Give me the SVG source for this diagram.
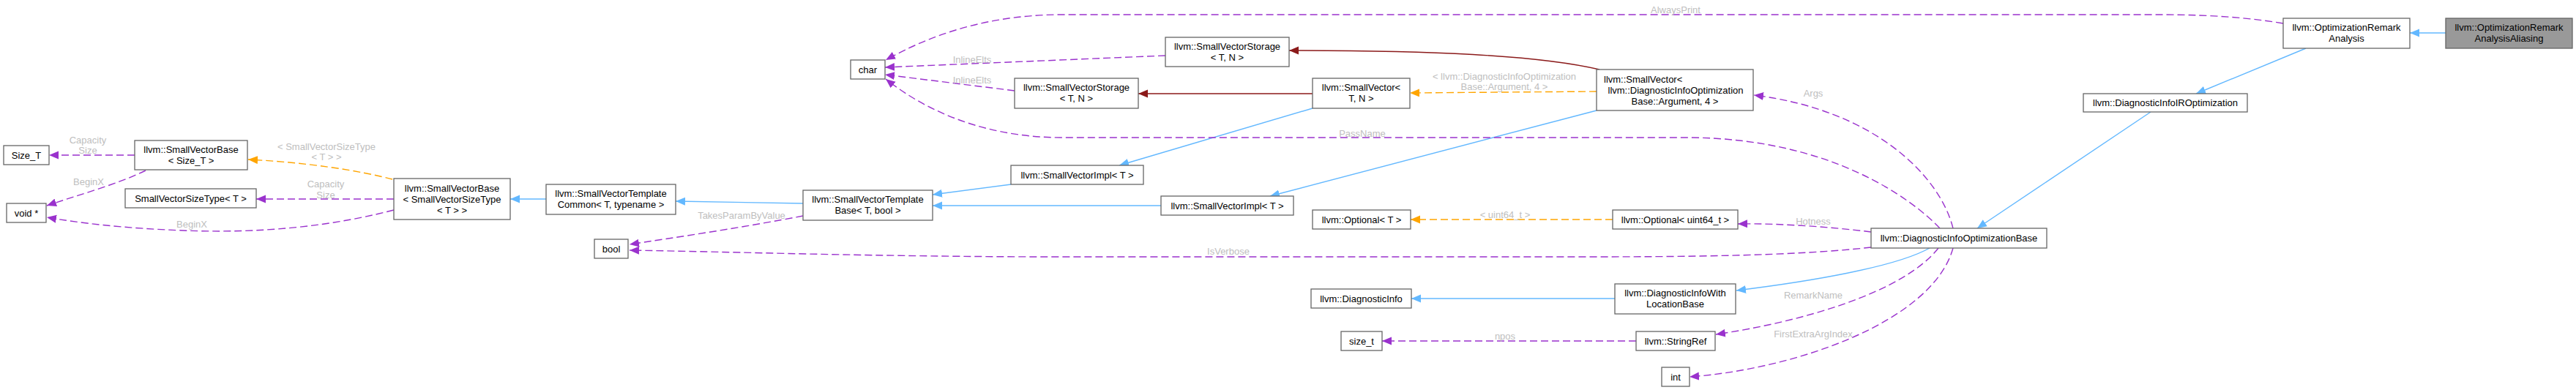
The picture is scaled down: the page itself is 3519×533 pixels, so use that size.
<svg xmlns="http://www.w3.org/2000/svg" width="3519" height="533" viewBox="0 0 3519 533">
<style>
.n rect{fill:#ffffff;stroke:#666666;stroke-width:1.3}
.n.f rect{fill:#999999}
.n text{font-family:"Liberation Sans",Arial,sans-serif;font-size:13px;fill:#000000;text-anchor:middle}
.e path{fill:none;stroke-width:1.4}
.p{stroke:#9a32cd;stroke-dasharray:10,5}
.o{stroke:#ffa500;stroke-dasharray:10,5}
.b{stroke:#63b8ff}
.r{stroke:#8b1a1a}
.l{font-family:"Liberation Sans",Arial,sans-serif;font-size:13px;fill:#bebebe;text-anchor:middle}
</style>
<defs>
<marker id="ap" markerUnits="userSpaceOnUse" markerWidth="14" markerHeight="12" refX="13" refY="5.5" orient="auto"><path d="M0,0 L13,5.5 L0,11 z" fill="#9a32cd"/></marker>
<marker id="ao" markerUnits="userSpaceOnUse" markerWidth="14" markerHeight="12" refX="13" refY="5.5" orient="auto"><path d="M0,0 L13,5.5 L0,11 z" fill="#ffa500"/></marker>
<marker id="ab" markerUnits="userSpaceOnUse" markerWidth="14" markerHeight="12" refX="13" refY="5.5" orient="auto"><path d="M0,0 L13,5.5 L0,11 z" fill="#63b8ff"/></marker>
<marker id="ar" markerUnits="userSpaceOnUse" markerWidth="14" markerHeight="12" refX="13" refY="5.5" orient="auto"><path d="M0,0 L13,5.5 L0,11 z" fill="#8b1a1a"/></marker>
</defs>
<rect x="0" y="0" width="3519" height="533" fill="#ffffff"/>
<g id="edges" class="e">
<path class="p" d="M184,212 L67,212" marker-end="url(#ap)"/>
<path class="p" d="M199,233 C160,252 105,267 64,281" marker-end="url(#ap)"/>
<path class="p" d="M538,272 L350,272" marker-end="url(#ap)"/>
<path class="p" d="M538,287 C430,315 330,318 250,315 C170,312 110,305 64,297" marker-end="url(#ap)"/>
<path class="o" d="M536,245 C490,233 420,222 339,218" marker-end="url(#ao)"/>
<path class="b" d="M746,272 L697,272" marker-end="url(#ab)"/>
<path class="b" d="M1097,278 L923,275" marker-end="url(#ab)"/>
<path class="p" d="M1097,295 C1020,310 920,325 860,334" marker-end="url(#ap)"/>
<path class="b" d="M1381,252 L1274,266" marker-end="url(#ab)"/>
<path class="b" d="M1586,281 L1274,281" marker-end="url(#ab)"/>
<path class="b" d="M1793,148 L1529,226" marker-end="url(#ab)"/>
<path class="b" d="M2181,151 L1735,268" marker-end="url(#ab)"/>
<path class="r" d="M1793,128 L1555,128" marker-end="url(#ar)"/>
<path class="r" d="M2185,95 C2100,75 1950,69 1761,69" marker-end="url(#ar)"/>
<path class="o" d="M2181,125 L1926,127" marker-end="url(#ao)"/>
<path class="p" d="M1592,76 L1209,92" marker-end="url(#ap)"/>
<path class="p" d="M1386,124 L1209,102" marker-end="url(#ap)"/>
<path class="p" d="M3119,32 C3060,22 3000,20 2950,20 L1451,20 C1330,20 1250,60 1210,82" marker-end="url(#ap)"/>
<path class="p" d="M2650,312 C2610,270 2500,190 2310,188 L1451,188 C1330,188 1250,140 1210,108" marker-end="url(#ap)"/>
<path class="p" d="M2668,312 C2650,240 2560,150 2396,130" marker-end="url(#ap)"/>
<path class="p" d="M2556,317 C2500,310 2430,305 2374,306" marker-end="url(#ap)"/>
<path class="p" d="M2556,338 C2450,350 2300,351 2150,351 L1451,351 C1200,351 1000,344 860,342" marker-end="url(#ap)"/>
<path class="b" d="M2636,339 C2590,365 2470,385 2372,397" marker-end="url(#ab)"/>
<path class="b" d="M2206,408 L1928,408" marker-end="url(#ab)"/>
<path class="p" d="M2648,339 C2600,400 2460,440 2344,457" marker-end="url(#ap)"/>
<path class="p" d="M2668,339 C2640,440 2450,505 2308,515" marker-end="url(#ap)"/>
<path class="p" d="M2235,466 L1888,466" marker-end="url(#ap)"/>
<path class="o" d="M2203,300 L1927,300" marker-end="url(#ao)"/>
<path class="b" d="M3341,45 L3292,45" marker-end="url(#ab)"/>
<path class="b" d="M3150,66 L3000,128" marker-end="url(#ab)"/>
<path class="b" d="M2938,153 L2701,312" marker-end="url(#ab)"/>
<text class="l" x="120" y="195.5">Capacity</text>
<text class="l" x="120" y="209.5">Size</text>
<text class="l" x="121" y="252.5">BeginX</text>
<text class="l" x="445" y="255.5">Capacity</text>
<text class="l" x="445" y="270.5">Size</text>
<text class="l" x="262" y="310.5">BeginX</text>
<text class="l" x="446" y="204.5">&lt; SmallVectorSizeType</text>
<text class="l" x="446" y="218.5">&lt; T &gt; &gt;</text>
<text class="l" x="1013" y="298.5">TakesParamByValue</text>
<text class="l" x="1678" y="347.5">IsVerbose</text>
<text class="l" x="1328" y="85.5">InlineElts</text>
<text class="l" x="1328" y="113.5">InlineElts</text>
<text class="l" x="2289" y="17.5">AlwaysPrint</text>
<text class="l" x="1861" y="186.5">PassName</text>
<text class="l" x="2055" y="108.5">&lt; llvm::DiagnosticInfoOptimization</text>
<text class="l" x="2055" y="122.5">Base::Argument, 4 &gt;</text>
<text class="l" x="2477" y="131.5">Args</text>
<text class="l" x="2056" y="297.5">&lt; uint64_t &gt;</text>
<text class="l" x="2477" y="306.5">Hotness</text>
<text class="l" x="2477" y="407.5">RemarkName</text>
<text class="l" x="2056" y="463.5">npos</text>
<text class="l" x="2477" y="460.5">FirstExtraArgIndex</text>
</g>
<g id="n_size_T" class="n"><rect x="5" y="199" width="62" height="26"/><text x="36" y="216.5">Size_T</text></g>
<g id="n_svb_sizeT" class="n"><rect x="184" y="192" width="154" height="40"/><text x="261" y="209">llvm::SmallVectorBase</text><text x="261" y="224">&lt; Size_T &gt;</text></g>
<g id="n_void" class="n"><rect x="9" y="278" width="54" height="26"/><text x="36" y="295.5">void *</text></g>
<g id="n_svsizetype" class="n"><rect x="171" y="258" width="179" height="26"/><text x="260.5" y="275.5">SmallVectorSizeType&lt; T &gt;</text></g>
<g id="n_svb_svst" class="n"><rect x="538" y="244" width="159" height="56"/><text x="617.5" y="261.5">llvm::SmallVectorBase</text><text x="617.5" y="276.5">&lt; SmallVectorSizeType</text><text x="617.5" y="291.5">&lt; T &gt; &gt;</text></g>
<g id="n_svtcommon" class="n"><rect x="746" y="252" width="177" height="41"/><text x="834.5" y="269">llvm::SmallVectorTemplate</text><text x="834.5" y="284">Common&lt; T, typename &gt;</text></g>
<g id="n_bool" class="n"><rect x="812" y="327" width="46" height="26"/><text x="835" y="344.5">bool</text></g>
<g id="n_svtbase" class="n"><rect x="1097" y="260" width="177" height="41"/><text x="1185.5" y="277">llvm::SmallVectorTemplate</text><text x="1185.5" y="292">Base&lt; T, bool &gt;</text></g>
<g id="n_svimpl1" class="n"><rect x="1381" y="226" width="181" height="26"/><text x="1471.5" y="243.5">llvm::SmallVectorImpl&lt; T &gt;</text></g>
<g id="n_svimpl2" class="n"><rect x="1586" y="268" width="181" height="26"/><text x="1676.5" y="285.5">llvm::SmallVectorImpl&lt; T &gt;</text></g>
<g id="n_char" class="n"><rect x="1162" y="82" width="47" height="26"/><text x="1185.5" y="99.5">char</text></g>
<g id="n_svstorage1" class="n"><rect x="1592" y="51" width="169" height="40"/><text x="1676.5" y="68">llvm::SmallVectorStorage</text><text x="1676.5" y="83">&lt; T, N &gt;</text></g>
<g id="n_svstorage2" class="n"><rect x="1386" y="107" width="169" height="41"/><text x="1470.5" y="124">llvm::SmallVectorStorage</text><text x="1470.5" y="139">&lt; T, N &gt;</text></g>
<g id="n_smallvector" class="n"><rect x="1793" y="107" width="133" height="41"/><text x="1859.5" y="124">llvm::SmallVector&lt;</text><text x="1859.5" y="139">T, N &gt;</text></g>
<g id="n_bigsv" class="n"><rect x="2181" y="95" width="214" height="56"/><text x="2191" y="112.5" style="text-anchor:start">llvm::SmallVector&lt;</text><text x="2289" y="127.5">llvm::DiagnosticInfoOptimization</text><text x="2288" y="142.5">Base::Argument, 4 &gt;</text></g>
<g id="n_optional_T" class="n"><rect x="1793" y="287" width="134" height="26"/><text x="1860" y="304.5">llvm::Optional&lt; T &gt;</text></g>
<g id="n_optional_u64" class="n"><rect x="2203" y="287" width="171" height="26"/><text x="2288.5" y="304.5">llvm::Optional&lt; uint64_t &gt;</text></g>
<g id="n_diagbase" class="n"><rect x="2556" y="312" width="240" height="27"/><text x="2676" y="330">llvm::DiagnosticInfoOptimizationBase</text></g>
<g id="n_diaginfo" class="n"><rect x="1791" y="395" width="137" height="26"/><text x="1859.5" y="412.5">llvm::DiagnosticInfo</text></g>
<g id="n_diagwithloc" class="n"><rect x="2206" y="388" width="165" height="41"/><text x="2288.5" y="405">llvm::DiagnosticInfoWith</text><text x="2288.5" y="420">LocationBase</text></g>
<g id="n_size_t" class="n"><rect x="1832" y="453" width="56" height="26"/><text x="1860" y="470.5">size_t</text></g>
<g id="n_stringref" class="n"><rect x="2235" y="453" width="108" height="26"/><text x="2289" y="470.5">llvm::StringRef</text></g>
<g id="n_int" class="n"><rect x="2270" y="502" width="38" height="26"/><text x="2289" y="519.5">int</text></g>
<g id="n_diagiropt" class="n"><rect x="2846" y="128" width="224" height="25"/><text x="2958" y="145">llvm::DiagnosticInfoIROptimization</text></g>
<g id="n_ora" class="n"><rect x="3119" y="25" width="173" height="41"/><text x="3205.5" y="42">llvm::OptimizationRemark</text><text x="3205.5" y="57">Analysis</text></g>
<g id="n_oraa" class="n f"><rect x="3341" y="25" width="173" height="41"/><text x="3427.5" y="42">llvm::OptimizationRemark</text><text x="3427.5" y="57">AnalysisAliasing</text></g>
</svg>
